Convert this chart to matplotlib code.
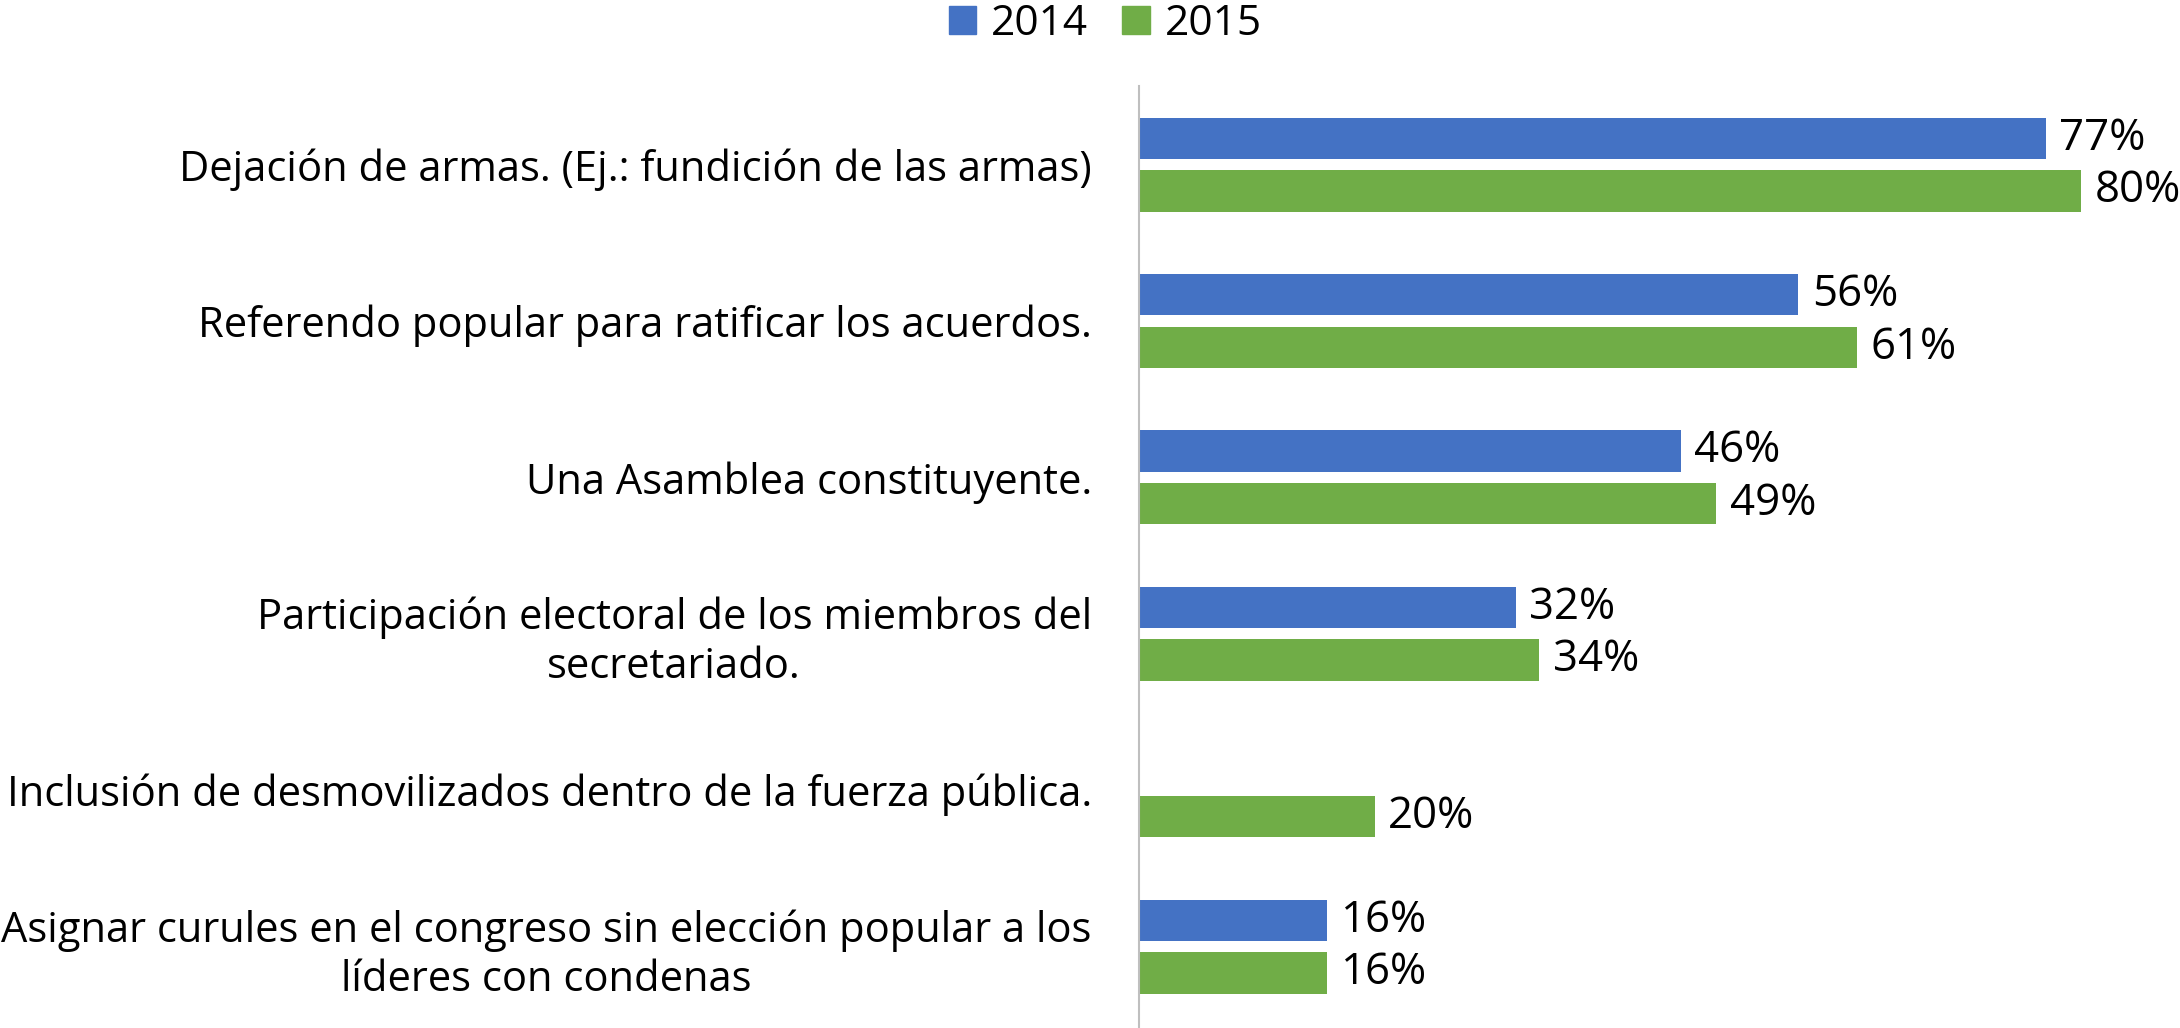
import numpy as np
import matplotlib
matplotlib.use("Agg")
import matplotlib.pyplot as plt
from matplotlib.patches import Patch

plt.rcParams['font.family'] = ['Open Sans', 'DejaVu Sans']

categories = [
    "Dejación de armas. (Ej.: fundición de las armas)",
    "Referendo popular para ratificar los acuerdos.",
    "Una Asamblea constituyente.",
    "Participación electoral de los miembros del\nsecretariado.",
    "Inclusión de desmovilizados dentro de la fuerza pública.",
    "Asignar curules en el congreso sin elección popular a los\nlíderes con condenas",
]
series_names = ["2014", "2015"]
values_2014 = [77, 56, 46, 32, np.nan, 16]
values_2015 = [80, 61, 49, 34, 20, 16]

colors = ["#4472C4", "#70AD47"]

fig = plt.figure(figsize=(21.8, 10.28), dpi=100)
ax = fig.add_axes([0.5225, 0.0, 0.4775, 0.916])

y = np.arange(len(categories))
h = 0.265
off = 0.168
fs = 30.0
vfs = 31.5

for vals, sign, col in [(values_2014, -1, colors[0]), (values_2015, 1, colors[1])]:
    vals = np.array(vals, dtype=float)
    mask = ~np.isnan(vals)
    ax.barh(y[mask] + sign * off, vals[mask], height=h, color=col)
    for yy, v in zip(y[mask] + sign * off, vals[mask]):
        ax.text(v + 1.15, yy, f"{int(v)}%", va='center', ha='left', fontsize=vfs, color='black')

ax.set_ylim(len(categories) - 0.5 + 0.02, -0.5)
ax.set_xlim(0, 88.4)
ax.set_yticks(y)
ax.set_yticklabels(categories, fontsize=fs, multialignment='center', linespacing=1.22)
ax.tick_params(axis='y', length=0, pad=34)
ax.set_xticks([])
for s in ['top', 'right', 'bottom']:
    ax.spines[s].set_visible(False)
ax.spines['left'].set_color('#BFBFBF')
ax.spines['left'].set_linewidth(1.5)

handles = [Patch(color=c, label=n) for c, n in zip(colors, series_names)]
fig.legend(handles=handles, loc='center', bbox_to_anchor=(0.507, 0.977), ncol=2,
           frameon=False, fontsize=30.5, handlelength=0.65, handleheight=0.65,
           handletextpad=0.35, columnspacing=0.8)

fig.savefig("out.png", dpi=100)
